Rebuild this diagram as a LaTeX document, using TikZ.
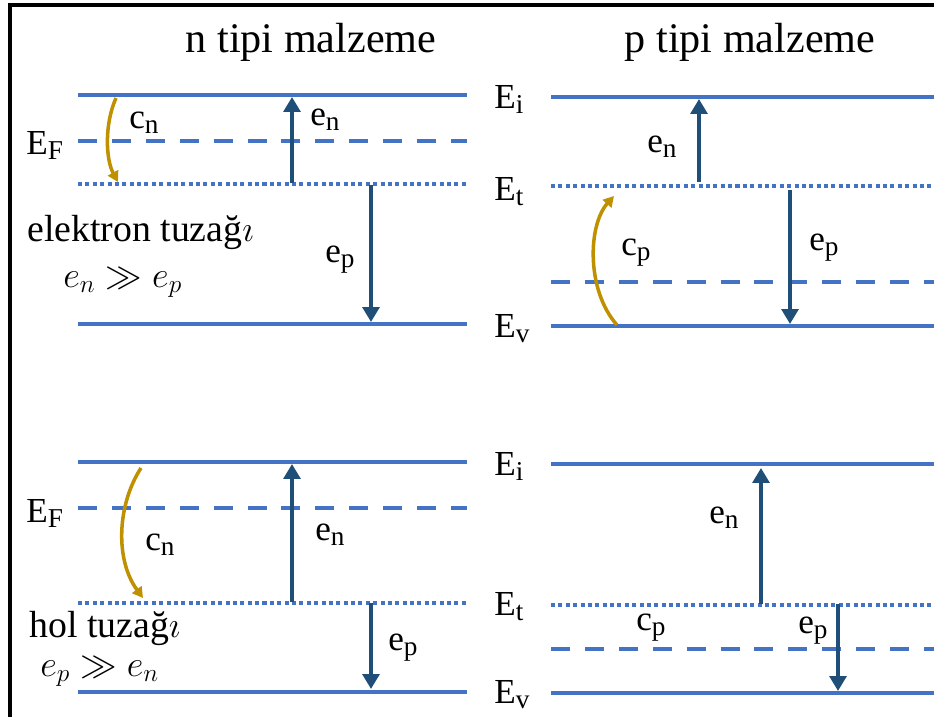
\documentclass[tikz,border=0pt]{standalone}
\usepackage{fontspec}
\setmainfont{Liberation Serif}
\usetikzlibrary{arrows.meta}

\definecolor{lvl}{HTML}{4472C4}
\definecolor{trans}{HTML}{1F4E79}
\definecolor{gold}{HTML}{BF9000}
\DeclareMathSizes{20}{20}{15.5}{12}

\begin{document}
\begin{tikzpicture}[x=0.02cm,y=-0.02cm,
  lv/.style={draw=lvl,line width=2.3pt},
  fermi/.style={lv,dash pattern=on 10.8pt off 8.5pt},
  trap/.style={lv,dash pattern=on 2.3pt off 1.9pt},
  emis/.style={draw=trans,line width=2.8pt,-{Triangle[width=9.5pt,length=8.5pt]}},
  capt/.style={draw=gold,line width=2pt,-{Triangle[width=6.5pt,length=6pt]}},
  ttl/.style={font=\fontsize{24}{28}\selectfont,anchor=base,inner sep=0pt},
  side/.style={font=\fontsize{21.5}{25}\selectfont,anchor=base west,inner sep=0pt},
  lbl/.style={font=\fontsize{20}{24}\selectfont,anchor=base west,inner sep=0pt}
]
\useasboundingbox[fill=white] (0,0) rectangle (934,717);
\draw[line width=1.8pt] (10,717) -- (10,5) -- (934,5);

\node[ttl] (tn) at (311,52) {n tipi malzeme};
\node[ttl] (tp) at (750,52) {p tipi malzeme};

% ---- n type, electron trap : top left ----
\draw[lv] (78,95) -- (467,95);
\draw[fermi] (78,141) -- (467,141);
\draw[trap] (78,184) -- (467,184);
\draw[lv] (78,324) -- (467,324);
\node[lbl] (ef1) at (26,154) {E$_{\mathrm{F}}$};
\node[side] (etz) at (27,241) {elektron tuza\u{g}$\imath$};
\node[side] (enp) at (63,287) {$e_n \gg e_p$};
\coordinate (cn1a) at (116,98);  \coordinate (cn1b) at (118,182);
\coordinate (en1a) at (292,183); \coordinate (en1b) at (292,97);
\coordinate (ep1a) at (371,185); \coordinate (ep1b) at (371,322);
\draw[capt] (cn1a) .. controls (104,125) and (106,160) .. (cn1b);
\draw[emis] (en1a) -- (en1b);
\draw[emis] (ep1a) -- (ep1b);
\node[lbl] (cn1) at (129,128) {c$_{\mathrm{n}}$};
\node[lbl] (en1) at (310,125) {e$_{\mathrm{n}}$};
\node[lbl] (ep1) at (325,262) {e$_{\mathrm{p}}$};

% ---- p type : top right ----
\draw[lv] (551,97) -- (934,97);
\draw[trap] (551,186) -- (934,186);
\draw[fermi] (551,282) -- (934,282);
\draw[lv] (551,326) -- (934,326);
\node[lbl] (ei2) at (494,108) {E$_{\mathrm{i}}$};
\node[lbl] (et2) at (494,200) {E$_{\mathrm{t}}$};
\node[lbl] (ev2) at (494,337) {E$_{\mathrm{v}}$};
\coordinate (cp2a) at (617,325); \coordinate (cp2b) at (614,196);
\coordinate (en2a) at (699,182); \coordinate (en2b) at (699,99);
\coordinate (ep2a) at (790,190); \coordinate (ep2b) at (790,324);
\draw[capt] (cp2a) .. controls (586,290) and (588,225) .. (cp2b);
\draw[emis] (en2a) -- (en2b);
\draw[emis] (ep2a) -- (ep2b);
\node[lbl] (en2) at (647,152) {e$_{\mathrm{n}}$};
\node[lbl] (cp2) at (621,255) {c$_{\mathrm{p}}$};
\node[lbl] (ep2) at (809,250) {e$_{\mathrm{p}}$};

% ---- n type, hole trap : bottom left ----
\draw[lv] (78,462) -- (467,462);
\draw[fermi] (78,508) -- (467,508);
\draw[trap] (78,603) -- (467,603);
\draw[lv] (78,692) -- (467,692);
\node[lbl] (ef3) at (26,522) {E$_{\mathrm{F}}$};
\node[side] (htz) at (29,637) {hol tuza\u{g}$\imath$};
\node[side] (epn) at (40,676) {$e_p \gg e_n$};
\coordinate (cn3a) at (141,468); \coordinate (cn3b) at (143,598);
\coordinate (en3a) at (292,602); \coordinate (en3b) at (292,464);
\coordinate (ep3a) at (371,603); \coordinate (ep3b) at (371,689);
\draw[capt] (cn3a) .. controls (117,505) and (115,560) .. (cn3b);
\draw[emis] (en3a) -- (en3b);
\draw[emis] (ep3a) -- (ep3b);
\node[lbl] (cn3) at (145,550) {c$_{\mathrm{n}}$};
\node[lbl] (en3) at (315,540) {e$_{\mathrm{n}}$};
\node[lbl] (ep3) at (388,650) {e$_{\mathrm{p}}$};

% ---- p type : bottom right ----
\draw[lv] (551,464) -- (934,464);
\draw[trap] (551,605) -- (934,605);
\draw[fermi] (551,649) -- (934,649);
\draw[lv] (551,693) -- (934,693);
\node[lbl] (ei4) at (494,475) {E$_{\mathrm{i}}$};
\node[lbl] (et4) at (494,615) {E$_{\mathrm{t}}$};
\node[lbl] (ev4) at (494,703) {E$_{\mathrm{v}}$};
\coordinate (en4a) at (761,604); \coordinate (en4b) at (761,468);
\coordinate (ep4a) at (838,604); \coordinate (ep4b) at (838,691);
\draw[emis] (en4a) -- (en4b);
\draw[emis] (ep4a) -- (ep4b);
\node[lbl] (en4) at (709,523) {e$_{\mathrm{n}}$};
\node[lbl] (cp4) at (636,630) {c$_{\mathrm{p}}$};
\node[lbl] (ep4) at (798,633) {e$_{\mathrm{p}}$};
\end{tikzpicture}
\end{document}
